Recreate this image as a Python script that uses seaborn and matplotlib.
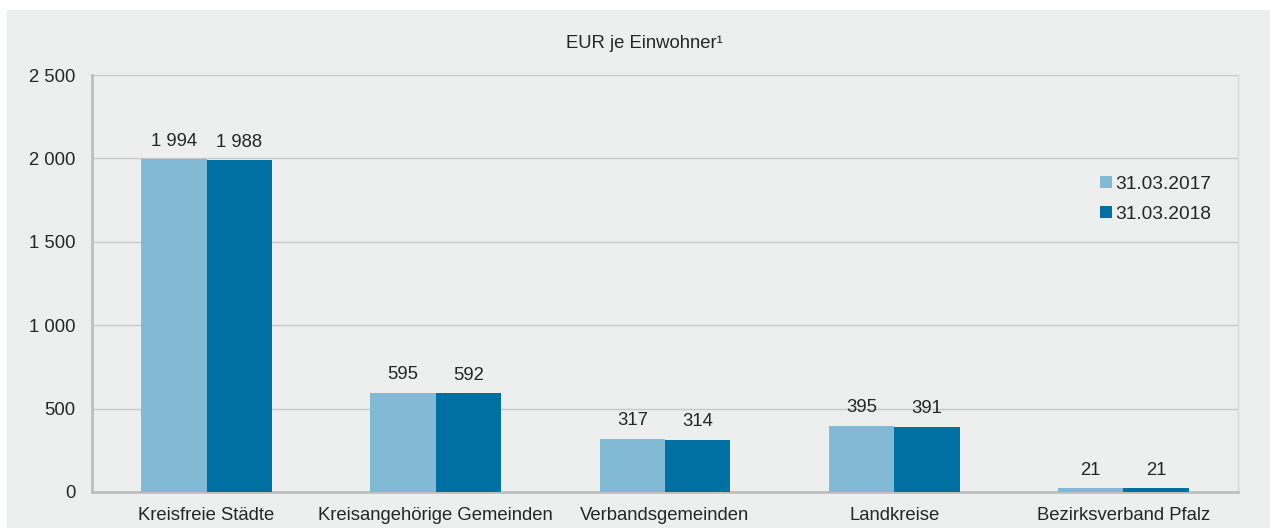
import pandas as pd
import matplotlib.pyplot as plt
import seaborn as sns
from matplotlib.patches import Rectangle

# Data
categories = ['Kreisfreie Städte', 'Kreisangehörige Gemeinden', 'Verbandsgemeinden',
              'Landkreise', 'Bezirksverband Pfalz']
werte_2017 = [1994, 595, 317, 395, 21]
werte_2018 = [1988, 592, 314, 391, 21]
stichtage = ['31.03.2017', '31.03.2018']
farben = ['#82B9D5', '#0070A3']

df = pd.DataFrame({
    'Kategorie': categories * 2,
    'Wert': werte_2017 + werte_2018,
    'Stichtag': [stichtage[0]] * len(categories) + [stichtage[1]] * len(categories),
})

def fmt(v):
    return f'{int(v):,}'.replace(',', ' ')

sns.set_style('white')
plt.rcParams['font.family'] = ['Liberation Sans', 'DejaVu Sans']
fs = 13.3

fig = plt.figure(figsize=(12.7, 5.28), dpi=100)
fig.patch.set_facecolor('white')
fig.add_artist(Rectangle((7 / 1270, 0), 1, (528 - 10) / 528, transform=fig.transFigure,
                         facecolor='#EDEEEE', edgecolor='none', zorder=0))

ax = fig.add_axes([92 / 1270, 36 / 528, (1238 - 92) / 1270, (492 - 75) / 528])
ax.set_facecolor('#EDEEEE')

sns.barplot(data=df, x='Kategorie', y='Wert', hue='Stichtag', palette=farben,
            width=0.57, ax=ax, saturation=1, linewidth=0, zorder=3)

for cont in ax.containers:
    ax.bar_label(cont, labels=[fmt(b.get_height()) for b in cont], padding=7, fontsize=fs)

ax.set_ylim(0, 2500)
ax.set_xlim(-0.5, len(categories) - 0.5)
ax.set_yticks(range(0, 2501, 500))
ax.set_yticklabels([fmt(v) for v in range(0, 2501, 500)], fontsize=fs)
ax.yaxis.grid(True, color='#C8C8C8', linewidth=1, zorder=0)
ax.set_axisbelow(True)

ax.set_xticks(range(len(categories)))
ax.set_xticklabels(categories, fontsize=fs)
ax.set_xticks([i - 0.5 for i in range(len(categories) + 1)], minor=True)
ax.tick_params(axis='x', which='major', length=0, pad=11)
ax.tick_params(axis='x', which='minor', length=5, color='#BEBEBE', width=1.5)
ax.tick_params(axis='y', length=5, color='#BEBEBE', width=1.5, pad=7)

ax.set_xlabel('')
ax.set_ylabel('')
for side in ['left', 'bottom']:
    ax.spines[side].set_color('#BEBEBE')
    ax.spines[side].set_linewidth(2)
ax.spines['right'].set_color('#D8D8D8')
ax.spines['right'].set_linewidth(1)
ax.spines['top'].set_visible(False)

ax.legend(loc='upper right', bbox_to_anchor=(0.983, 0.777), frameon=False, fontsize=fs + 0.5,
          handlelength=0.6, handleheight=0.6, handletextpad=0.15, labelspacing=0.7,
          borderaxespad=0)

fig.text(644 / 1270, 1 - 43 / 528, 'EUR je Einwohner¹', ha='center', va='center', fontsize=fs)

fig.savefig('out.png', dpi=100, facecolor=fig.get_facecolor())
